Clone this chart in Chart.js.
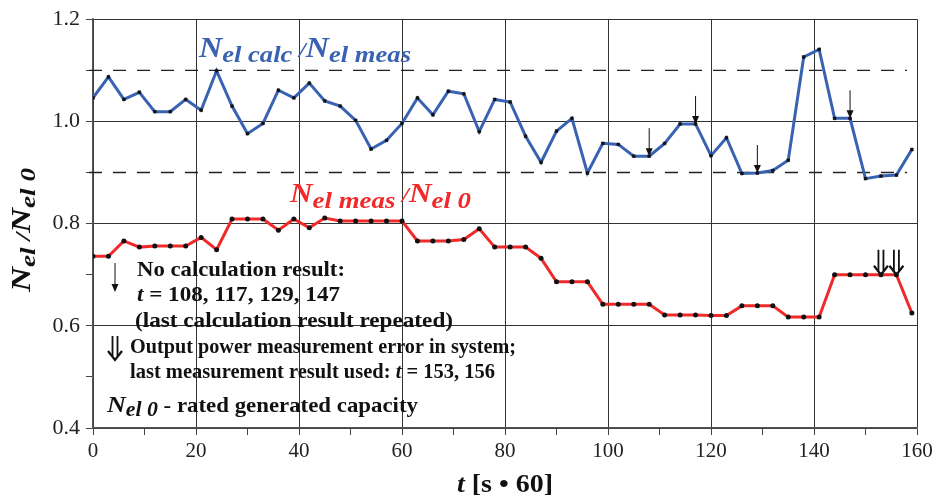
<!DOCTYPE html>
<html>
<head>
<meta charset="utf-8">
<script src="https://cdn.jsdelivr.net/npm/chart.js@4/dist/chart.umd.min.js"></script>
<style>
  html, body { margin: 0; padding: 0; background: #fff; }
  #wrap { width: 941px; height: 497px; }
</style>
</head>
<body>
<div id="wrap"><canvas id="chart" width="941" height="497"></canvas></div>
<script>
// time points, t [s * 60]
const tValues = [0,3,6,9,12,15,18,21,24,27,30,33,36,39,42,45,48,51,54,57,60,63,66,69,72,75,78,81,84,87,
  90,93,96,99,102,105,108,111,114,117,120,123,126,129,132,135,138,141,144,147,150,153,156,159];

// N el calc / N el meas
const calcMeas = [1.046,1.087,1.043,1.057,1.019,1.019,1.043,1.022,1.099,1.030,0.976,0.996,1.061,1.046,1.075,
  1.040,1.030,1.002,0.946,0.963,0.996,1.046,1.013,1.059,1.054,0.980,1.043,1.038,0.971,0.920,0.981,1.006,0.899,
  0.957,0.955,0.932,0.932,0.957,0.995,0.995,0.933,0.968,0.898,0.899,0.904,0.924,1.126,1.141,1.006,1.006,0.888,
  0.893,0.895,0.945];

// N el meas / N el 0
const measRated = [0.736,0.736,0.766,0.754,0.756,0.756,0.756,0.773,0.749,0.809,0.809,0.809,0.787,0.809,0.792,
  0.811,0.805,0.805,0.805,0.805,0.805,0.766,0.766,0.766,0.769,0.790,0.754,0.754,0.754,0.732,0.686,0.686,0.686,
  0.642,0.642,0.642,0.642,0.621,0.621,0.621,0.620,0.620,0.639,0.639,0.639,0.617,0.617,0.617,0.700,0.700,0.700,
  0.700,0.700,0.625];

const noCalcTimes = [108, 117, 129, 147];
const measErrorTimes = [153, 156];
const dashedLevels = [1.1, 0.9];

const BLUE = '#3a62b2';
const RED = '#f02a2a';
const SERIF = '"Liberation Serif", "Times New Roman", serif';

function toPoints(ys) {
  return tValues.map((t, i) => ({ x: t, y: ys[i] }));
}

// draws text made of pieces {t, size, style, dy}; squeezes/stretches to width w if given
function drawRich(ctx, x, y, parts, color, w) {
  ctx.save();
  ctx.fillStyle = color;
  ctx.textBaseline = 'alphabetic';
  ctx.textAlign = 'left';
  let total = 0;
  parts.forEach(p => {
    ctx.font = (p.style || 'bold') + ' ' + p.size + 'px ' + SERIF;
    total += ctx.measureText(p.t).width;
  });
  const k = w ? w / total : 1;
  ctx.translate(x, y);
  ctx.scale(k, 1);
  let cx = 0;
  parts.forEach(p => {
    ctx.font = (p.style || 'bold') + ' ' + p.size + 'px ' + SERIF;
    ctx.fillText(p.t, cx, p.dy || 0);
    cx += ctx.measureText(p.t).width;
  });
  ctx.restore();
}

function arrowDown(ctx, x, y1, y2) {
  ctx.strokeStyle = '#111';
  ctx.fillStyle = '#111';
  ctx.lineWidth = 1;
  ctx.beginPath();
  ctx.moveTo(x, y1);
  ctx.lineTo(x, y2 - 6);
  ctx.stroke();
  ctx.beginPath();
  ctx.moveTo(x - 3.5, y2 - 8);
  ctx.lineTo(x + 3.5, y2 - 8);
  ctx.lineTo(x, y2);
  ctx.closePath();
  ctx.fill();
}

function doubleArrowDown(ctx, x, y1, y2) {
  ctx.strokeStyle = '#111';
  ctx.lineWidth = 1.8;
  ctx.beginPath();
  ctx.moveTo(x - 2.5, y1);
  ctx.lineTo(x - 2.5, y2 - 4);
  ctx.moveTo(x + 2.5, y1);
  ctx.lineTo(x + 2.5, y2 - 4);
  ctx.stroke();
  ctx.lineWidth = 2.2;
  ctx.beginPath();
  ctx.moveTo(x - 7, y2 - 9);
  ctx.lineTo(x, y2);
  ctx.lineTo(x + 7, y2 - 9);
  ctx.stroke();
}

const annotations = {
  id: 'annotations',
  beforeDatasetsDraw(chart) {
    const { ctx, chartArea, scales } = chart;
    ctx.save();
    ctx.strokeStyle = '#222';
    ctx.lineWidth = 1.3;
    ctx.setLineDash([13, 11]);
    dashedLevels.forEach(v => {
      const y = scales.y.getPixelForValue(v);
      ctx.beginPath();
      ctx.moveTo(chartArea.left - 4, y);
      ctx.lineTo(chartArea.right - 10, y);
      ctx.stroke();
    });
    ctx.restore();
  },
  afterDatasetsDraw(chart) {
    const { ctx, scales } = chart;
    const xs = scales.x, ys = scales.y;
    ctx.save();

    // series labels
    drawRich(ctx, 199, 57, [
      { t: 'N', size: 29, style: 'italic bold' },
      { t: 'el calc ', size: 24, style: 'italic bold', dy: 5 },
      { t: '/', size: 22, style: 'italic bold' },
      { t: 'N', size: 29, style: 'italic bold' },
      { t: 'el meas', size: 24, style: 'italic bold', dy: 5 }
    ], BLUE, 212);
    drawRich(ctx, 290, 202, [
      { t: 'N', size: 28, style: 'italic bold' },
      { t: 'el meas ', size: 24, style: 'italic bold', dy: 6 },
      { t: '/', size: 22, style: 'italic bold' },
      { t: 'N', size: 28, style: 'italic bold' },
      { t: 'el 0', size: 24, style: 'italic bold', dy: 6 }
    ], RED, 181);

    // arrows on the curves
    noCalcTimes.forEach(t => {
      const v = calcMeas[tValues.indexOf(t)];
      const px = xs.getPixelForValue(t), py = ys.getPixelForValue(v);
      arrowDown(ctx, px, py - 28, py);
    });
    measErrorTimes.forEach(t => {
      const v = measRated[tValues.indexOf(t)];
      const px = xs.getPixelForValue(t), py = ys.getPixelForValue(v);
      doubleArrowDown(ctx, px, py - 25, py);
    });

    // legend notes
    arrowDown(ctx, 115, 263, 292);
    doubleArrowDown(ctx, 115, 336, 360);
    const note = '#111';
    drawRich(ctx, 137, 276, [{ t: 'No calculation result:', size: 21 }], note, 208);
    drawRich(ctx, 137, 301, [
      { t: 't', size: 21, style: 'italic bold' },
      { t: ' = 108, 117, 129, 147', size: 21 }
    ], note, 203);
    drawRich(ctx, 135, 327, [{ t: '(last calculation result repeated)', size: 21 }], note, 318);
    drawRich(ctx, 130, 353, [{ t: 'Output power measurement error in system;', size: 21 }], note, 386);
    drawRich(ctx, 130, 378, [
      { t: 'last measurement result used: ', size: 21 },
      { t: 't', size: 21, style: 'italic bold' },
      { t: ' = 153, 156', size: 21 }
    ], note, 365);
    drawRich(ctx, 107, 412, [
      { t: 'N', size: 24, style: 'italic bold' },
      { t: 'el 0', size: 20, style: 'italic bold', dy: 4 },
      { t: ' - rated generated capacity', size: 21 }
    ], note, 311);

    // axis titles
    ctx.save();
    ctx.translate(30, 232);
    ctx.rotate(-Math.PI / 2);
    drawRich(ctx, -60, 0, [
      { t: 'N', size: 28, style: 'italic bold' },
      { t: 'el ', size: 22, style: 'italic bold', dy: 5 },
      { t: '/', size: 22, style: 'italic bold' },
      { t: 'N', size: 28, style: 'italic bold' },
      { t: 'el 0', size: 22, style: 'italic bold', dy: 5 }
    ], '#111', 124);
    ctx.restore();
    drawRich(ctx, 457, 492, [
      { t: 't', size: 25, style: 'italic bold' },
      { t: ' [s \u2022 60]', size: 25 }
    ], '#111', 96);

    ctx.restore();
  }
};

new Chart(document.getElementById('chart'), {
  type: 'line',
  data: {
    datasets: [{
      label: 'Nel calc / Nel meas',
      data: toPoints(calcMeas),
      borderColor: BLUE,
      borderWidth: 3,
      pointStyle: 'rect',
      pointRadius: 2,
      pointBackgroundColor: '#111',
      pointBorderColor: '#111',
      pointBorderWidth: 0.5,
      tension: 0
    }, {
      label: 'Nel meas / Nel 0',
      data: toPoints(measRated),
      borderColor: RED,
      borderWidth: 3,
      pointStyle: 'circle',
      pointRadius: 2.5,
      pointBackgroundColor: '#111',
      pointBorderColor: '#111',
      pointBorderWidth: 0,
      tension: 0
    }]
  },
  options: {
    responsive: false,
    animation: false,
    layout: { padding: { top: 19, right: 24, left: 0, bottom: 0 } },
    plugins: {
      legend: { display: false },
      tooltip: { enabled: false }
    },
    scales: {
      x: {
        type: 'linear',
        min: 0,
        max: 160,
        afterFit: s => { s.height = 69; },
        ticks: {
          stepSize: 10,
          autoSkip: false,
          maxRotation: 0,
          padding: 4,
          color: '#222',
          font: { family: SERIF, size: 21 },
          callback: v => (v % 20 === 0 ? String(v) : '')
        },
        grid: {
          color: c => (c.tick && c.tick.value % 20 === 0 ? '#333' : 'rgba(0,0,0,0)'),
          tickColor: '#444',
          tickLength: 7,
          lineWidth: 1
        },
        border: { color: '#555', width: 1.5 }
      },
      y: {
        min: 0.4,
        max: 1.2,
        afterFit: s => { s.width = 93; },
        ticks: {
          stepSize: 0.1,
          autoSkip: false,
          padding: 6,
          color: '#222',
          font: { family: SERIF, size: 22 },
          callback: v => (Math.round(v * 10) % 2 === 0 ? v.toFixed(1) : '')
        },
        grid: {
          color: c => (c.tick && Math.round(c.tick.value * 10) % 2 === 0 ? '#333' : 'rgba(0,0,0,0)'),
          tickColor: '#444',
          tickLength: 7,
          lineWidth: 1
        },
        border: { color: '#555', width: 1.5 }
      }
    }
  },
  plugins: [annotations]
});
</script>
</body>
</html>
